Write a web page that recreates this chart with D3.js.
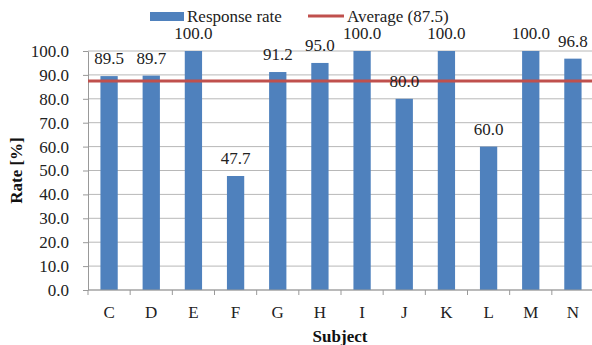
<!DOCTYPE html>
<html>
<head>
<meta charset="utf-8">
<script src="https://cdn.jsdelivr.net/npm/d3@7"></script>
<style>
  body { margin: 0; background: #fff; }
</style>
</head>
<body>
<svg id="chart" width="592" height="345"></svg>
<script>
let subjects = ['C', 'D', 'E', 'F', 'G', 'H', 'I', 'J', 'K', 'L', 'M', 'N'];
let responseRates = [89.5, 89.7, 100.0, 47.7, 91.2, 95.0, 100.0, 80.0, 100.0, 60.0, 100.0, 96.8];
let averageRate = 87.5;
let yTicks = [0, 10, 20, 30, 40, 50, 60, 70, 80, 90, 100];

const FONT = "'Liberation Serif', 'Times New Roman', Times, 'DejaVu Serif', serif";

let svg = d3.select('#chart')
    .attr('font-family', FONT);
let margin = {top: 51, right: 0, bottom: 55, left: 88};
let width = 594 - margin.left - margin.right, height = 345 - margin.top - margin.bottom;

let g = svg.append('g')
    .attr('transform', 'translate(' + margin.left + ',' + margin.top + ')');

// scales
let xScale = d3.scaleBand()
    .domain(subjects)
    .range([0, width])
    .paddingInner(0.59)
    .paddingOuter(0.295);
let yScale = d3.scaleLinear()
    .domain([0, 100])
    .range([height, 0]);

// gridlines
g.append('g')
    .selectAll('line')
    .data(yTicks)
    .enter().append('line')
    .attr('x1', 0).attr('x2', width)
    .attr('y1', d => yScale(d)).attr('y2', d => yScale(d))
    .attr('stroke', '#b8b8b8').attr('stroke-width', 1);

// y axis
let yAxis = g.append('g')
    .call(d3.axisLeft(yScale).tickValues(yTicks).tickFormat(d3.format('.1f')).tickSize(5).tickSizeOuter(0))
    .attr('font-family', FONT);
yAxis.select('.domain').attr('stroke', '#999');
yAxis.selectAll('.tick line').attr('stroke', '#999');
yAxis.selectAll('.tick text').attr('font-size', 17).attr('x', -19).attr('fill', '#222');

// bars
g.selectAll('.bar')
    .data(responseRates)
    .enter().append('rect')
    .attr('class', 'bar')
    .attr('x', (d, i) => xScale(subjects[i]))
    .attr('y', d => yScale(d))
    .attr('width', xScale.bandwidth())
    .attr('height', d => height - yScale(d))
    .attr('fill', '#4f81bd');

// x axis with ticks between categories
let step = xScale.step();
let xAxis = g.append('g')
    .attr('transform', 'translate(0,' + height + ')');
xAxis.append('line')
    .attr('x1', 0).attr('x2', width)
    .attr('stroke', '#999');
xAxis.selectAll('.sep')
    .data(d3.range(subjects.length + 1))
    .enter().append('line')
    .attr('x1', i => i * step).attr('x2', i => i * step)
    .attr('y1', 0).attr('y2', 5)
    .attr('stroke', '#999');
xAxis.selectAll('.lbl')
    .data(subjects)
    .enter().append('text')
    .attr('x', d => xScale(d) + xScale.bandwidth() / 2)
    .attr('y', 28)
    .attr('text-anchor', 'middle')
    .attr('font-size', 17).attr('fill', '#222')
    .text(d => d);

// average line
g.append('line')
    .attr('x1', 0).attr('x2', width)
    .attr('y1', yScale(averageRate)).attr('y2', yScale(averageRate))
    .attr('stroke', '#c0504d').attr('stroke-width', 3);

// data labels
g.selectAll('.val')
    .data(responseRates)
    .enter().append('text')
    .attr('x', (d, i) => xScale(subjects[i]) + xScale.bandwidth() / 2)
    .attr('y', d => yScale(d) - 12)
    .attr('text-anchor', 'middle')
    .attr('font-size', 17).attr('fill', '#222')
    .text(d => d3.format('.1f')(d));

// axis titles
svg.append('text')
    .attr('transform', 'translate(22,' + (margin.top + height / 2) + ') rotate(-90)')
    .attr('text-anchor', 'middle')
    .attr('font-size', 17).attr('font-weight', 'bold').attr('fill', '#111')
    .text('Rate [%]');
svg.append('text')
    .attr('x', 340).attr('y', 342)
    .attr('text-anchor', 'middle')
    .attr('font-size', 17).attr('font-weight', 'bold').attr('fill', '#111')
    .text('Subject');

// legend
let legend = svg.append('g');
legend.append('rect')
    .attr('x', 150).attr('y', 12).attr('width', 34).attr('height', 9)
    .attr('fill', '#4f81bd');
legend.append('text')
    .attr('x', 187).attr('y', 22)
    .attr('font-size', 17).attr('fill', '#222')
    .text('Response rate');
legend.append('line')
    .attr('x1', 308).attr('x2', 344).attr('y1', 16).attr('y2', 16)
    .attr('stroke', '#c0504d').attr('stroke-width', 3);
legend.append('text')
    .attr('x', 347).attr('y', 22)
    .attr('font-size', 17).attr('fill', '#222')
    .text('Average (87.5)');
</script>
</body>
</html>
